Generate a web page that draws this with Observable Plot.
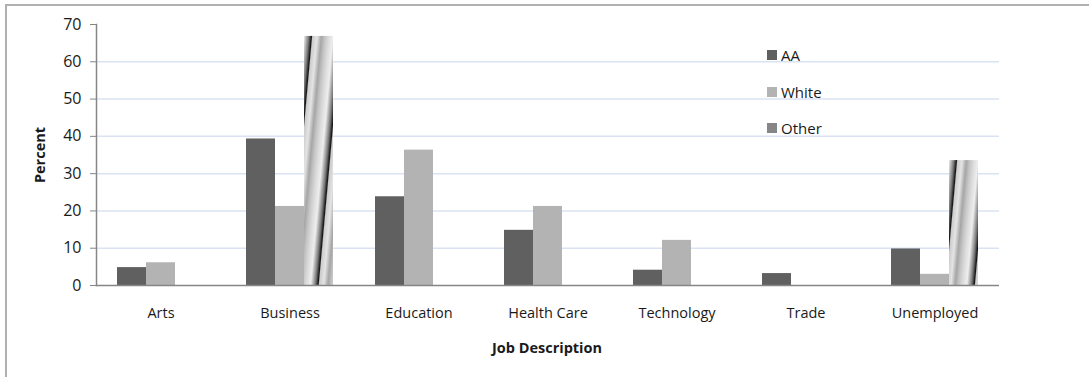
<!DOCTYPE html>
<html>
<head>
<meta charset="utf-8">
<script src="https://cdn.jsdelivr.net/npm/d3@7"></script>
<script src="https://cdn.jsdelivr.net/npm/@observablehq/plot@0.6"></script>
<style>
  html, body { margin: 0; padding: 0; background: #fff; overflow: hidden; }
  #wrap { position: relative; width: 1089px; height: 377px; font-family: "Open Sans", sans-serif; color: #1a1a1a; }
  #border { position: absolute; left: 5px; top: 4px; width: 1200px; height: 500px; border-left: 2px solid #b0b0b0; border-top: 2px solid #b0b0b0; }
  #chart { position: absolute; left: 0; top: 0; }
  .ytitle { position: absolute; left: 39px; top: 155px; transform: translate(-50%, -50%) rotate(-90deg); font-weight: bold; font-size: 14.5px; white-space: nowrap; }
  .xtitle { position: absolute; left: 547px; top: 347px; transform: translate(-50%, -50%); font-weight: bold; font-size: 14.5px; white-space: nowrap; }
  #legend { position: absolute; left: 767px; top: 37px; font-size: 15px; }
  .item { display: flex; align-items: center; height: 36.5px; }
  .sw { width: 10px; height: 10px; margin-right: 4px; }
</style>
</head>
<body>
<svg width="0" height="0" style="position:absolute"><defs id="defs"></defs></svg>
<div id="wrap">
  <div id="border"></div>
  <div id="chart"></div>
  <div class="ytitle">Percent</div>
  <div class="xtitle">Job Description</div>
  <div id="legend"></div>
</div>
<script>
const categories = ["Arts", "Business", "Education", "Health Care", "Technology", "Trade", "Unemployed"];
const series = ["AA", "White", "Other"];
const aaValues = [4.8, 39.3, 23.8, 14.8, 4.1, 3.2, 9.8];
const whiteValues = [6.1, 21.2, 36.3, 21.2, 12.1, 0, 3.0];
const otherValues = [0, 66.8, 0, 0, 0, 0, 33.5];
const yTicks = [0, 10, 20, 30, 40, 50, 60, 70];
const colors = ["#606060", "#b3b3b3", "#868686"];

const rows = [];
categories.forEach((c, i) => {
  rows.push({cat: c, series: "AA", value: aaValues[i]});
  rows.push({cat: c, series: "White", value: whiteValues[i]});
  rows.push({cat: c, series: "Other", value: otherValues[i]});
});
const solid = rows.filter(d => d.series !== "Other" && d.value > 0);
const broken = rows.filter(d => d.series === "Other" && d.value > 0);

// striped "broken bar" gradients, one per broken bar, slant scaled to bar height
const stops = [
  [0, "#eeeeee"], [0.06, "#c4c4c4"], [0.17, "#767676"], [0.26, "#141414"],
  [0.3, "#cccccc"], [0.45, "#e4e4e4"], [0.6, "#a6a6a6"], [0.72, "#c4c4c4"],
  [0.86, "#dcdcdc"], [1, "#eeeeee"]
];
const defs = document.getElementById("defs");
const NS = "http://www.w3.org/2000/svg";
broken.forEach((d, i) => {
  const g = document.createElementNS(NS, "linearGradient");
  g.setAttribute("id", "brk" + i);
  g.setAttribute("x1", "0"); g.setAttribute("y1", "0");
  g.setAttribute("x2", "1"); g.setAttribute("y2", "0");
  g.setAttribute("spreadMethod", "repeat");
  const k = 0.09 * (d.value * 261 / 70) / 29;
  g.setAttribute("gradientTransform", `matrix(1,0,${-k},1,0,0)`);
  stops.forEach(([o, c]) => {
    const s = document.createElementNS(NS, "stop");
    s.setAttribute("offset", o);
    s.setAttribute("stop-color", c);
    g.appendChild(s);
  });
  defs.appendChild(g);
  d.pattern = `url(#brk${i})`;
});

const chart = Plot.plot({
  width: 1089,
  height: 377,
  marginLeft: 96,
  marginRight: 90,
  marginTop: 24,
  marginBottom: 92,
  style: {fontFamily: "Open Sans, sans-serif", fontSize: "14.5px", color: "#1a1a1a", background: "transparent"},
  fx: {domain: categories, padding: 0, label: null},
  x: {domain: series, paddingInner: 0, paddingOuter: 0.72, axis: null},
  y: {domain: [0, 70], label: null},
  color: {domain: series, range: colors},
  marks: [
    Plot.gridY({ticks: yTicks.filter(t => t > 0 && t < 70), stroke: "#dae3f3", strokeOpacity: 1, strokeWidth: 1.5}),
    Plot.barY(solid, {fx: "cat", x: "series", y: "value", fill: "series", inset: 0}),
    Plot.barY(broken, {fx: "cat", x: "series", y: "value", fill: {value: "pattern", scale: null}, inset: 0}),
    Plot.ruleY([0], {stroke: "#868686", strokeWidth: 1.5}),
    Plot.frame({anchor: "left", facet: "super", stroke: "#868686", strokeWidth: 1.5}),
    Plot.axisY({ticks: yTicks, tickSize: 6, tickPadding: 9, stroke: "#868686", label: null, fontSize: 16}),
    Plot.axisFx({anchor: "bottom", tickSize: 0, tickPadding: 22, label: null, fontSize: 14.5})
  ]
});
document.getElementById("chart").appendChild(chart);

const legend = document.getElementById("legend");
series.forEach((s, i) => {
  const item = document.createElement("div");
  item.className = "item";
  const sw = document.createElement("div");
  sw.className = "sw";
  sw.style.background = colors[i];
  const t = document.createElement("span");
  t.textContent = s;
  item.appendChild(sw);
  item.appendChild(t);
  legend.appendChild(item);
});
</script>
</body>
</html>
